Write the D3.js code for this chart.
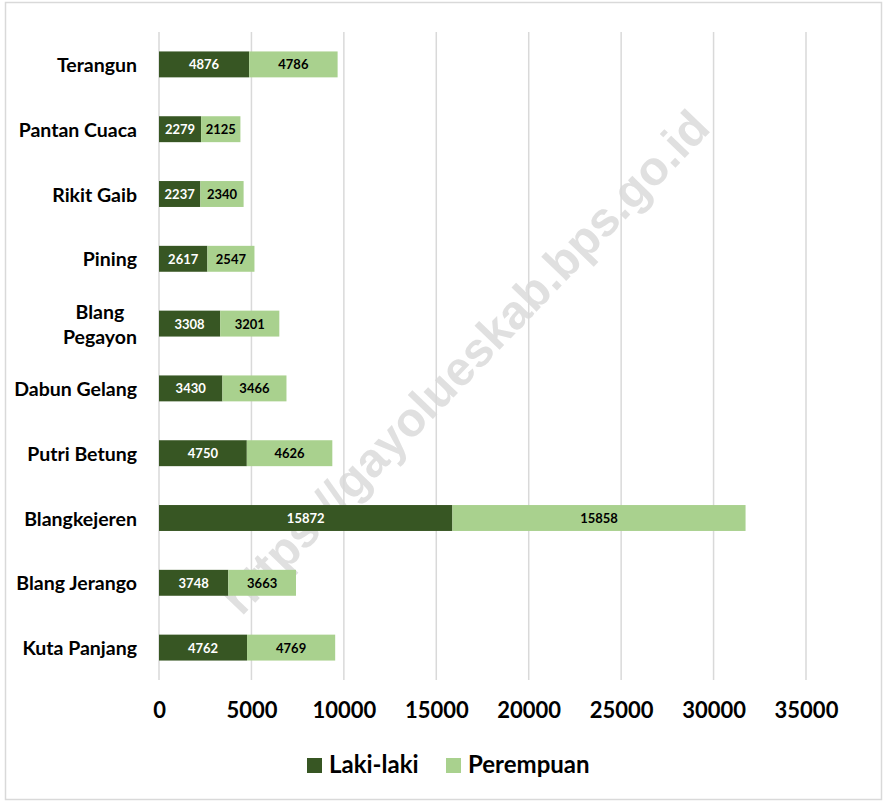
<!DOCTYPE html>
<html>
<head>
  <meta charset="utf-8">
  <title>Penduduk Gayo Lues</title>
  <script src="https://d3js.org/d3.v7.min.js"></script>
  <style>
    body { margin: 0; background: #fff; }
    text { font-family: Lato, "Open Sans", sans-serif; font-weight: bold; }
  </style>
</head>
<body>

  <div id="chart"></div>
  <script type="text/javascript">

  var kecamatan = ["Terangun", "Pantan Cuaca", "Rikit Gaib", "Pining", "Blang Pegayon",
                   "Dabun Gelang", "Putri Betung", "Blangkejeren", "Blang Jerango", "Kuta Panjang"];
  var lakiLaki  = [4876, 2279, 2237, 2617, 3308, 3430, 4750, 15872, 3748, 4762];
  var perempuan = [4786, 2125, 2340, 2547, 3201, 3466, 4626, 15858, 3663, 4769];
  var xTicks = [0, 5000, 10000, 15000, 20000, 25000, 30000, 35000];
  var seriesNames = ["Laki-laki", "Perempuan"];
  var wrapped = ["Blang Pegayon"];

  var colors = ["#375623", "#a9d18e"];
  var W = 888, H = 803;
  var mLeft = 159, mRight = 806, mTop = 32, mBottom = 680;

  var svg = d3.select("#chart").append("svg").attr("width", W).attr("height", H);

  svg.append("rect").attr("x", 5.5).attr("y", 2.5).attr("width", 876).attr("height", 797)
    .attr("fill", "#fff").attr("stroke", "#d9d9d9").attr("stroke-width", 1.5);

  var x = d3.scaleLinear().domain([0, 35000]).range([mLeft, mRight]);
  var y = d3.scaleBand().domain(kecamatan).range([mTop, mBottom])
    .paddingInner(0.6).paddingOuter(0.3);

  // gridlines
  svg.append("g").selectAll("line").data(xTicks).enter().append("line")
    .attr("x1", function(d){ return x(d); }).attr("x2", function(d){ return x(d); })
    .attr("y1", mTop).attr("y2", mBottom)
    .attr("stroke", "#d9d9d9").attr("stroke-width", 1.5);

  // watermark (behind bars)
  svg.append("text")
    .attr("transform", "translate(465,362) rotate(-46)")
    .attr("text-anchor", "middle").attr("dominant-baseline", "central")
    .style("font-family", "'Liberation Sans', Arial, sans-serif")
    .style("font-size", "48px").attr("fill", "#d9d9d9").attr("opacity", 0.8)
    .text("https://gayolueskab.bps.go.id");

  // stacked bars
  var rows = kecamatan.map(function(k, i){ return {k: k, v: [lakiLaki[i], perempuan[i]]}; });
  var segs = [];
  rows.forEach(function(r){
    var start = 0;
    r.v.forEach(function(v, s){
      segs.push({k: r.k, s: s, x0: start, x1: start + v, v: v});
      start += v;
    });
  });

  var g = svg.append("g");
  g.selectAll("rect").data(segs).enter().append("rect")
    .attr("x", function(d){ return x(d.x0); })
    .attr("width", function(d){ return x(d.x1) - x(d.x0); })
    .attr("y", function(d){ return y(d.k); })
    .attr("height", y.bandwidth())
    .attr("fill", function(d){ return colors[d.s]; });

  g.selectAll("text").data(segs).enter().append("text")
    .attr("x", function(d){ return (x(d.x0) + x(d.x1)) / 2; })
    .attr("y", function(d){ return y(d.k) + y.bandwidth() / 2; })
    .attr("text-anchor", "middle").attr("dominant-baseline", "central")
    .style("font-size", "13px")
    .attr("fill", function(d){ return d.s === 0 ? "#fff" : "#000"; })
    .text(function(d){ return d.v; });

  // category labels
  var labels = svg.append("g").selectAll("text").data(kecamatan).enter().append("text")
    .style("font-size", "19.5px").attr("fill", "#000")
    .attr("y", function(d){ return y(d) + y.bandwidth() / 2; })
    .attr("dominant-baseline", "central");
  labels.each(function(d){
    var t = d3.select(this);
    if (wrapped.indexOf(d) >= 0) {
      var parts = d.split(" ");
      t.attr("text-anchor", "middle");
      parts.forEach(function(p, i){
        t.append("tspan").attr("x", 0).attr("dy", i === 0 ? "-0.65em" : "1.3em").text(p);
      });
      var wmax = 0;
      t.selectAll("tspan").each(function(){ wmax = Math.max(wmax, this.getComputedTextLength()); });
      t.selectAll("tspan").attr("x", 137 - wmax / 2);
    } else {
      t.attr("text-anchor", "end").attr("x", 137).text(d);
    }
  });

  // x axis
  var xAxis = d3.axisBottom(x).tickValues(xTicks).tickSize(0).tickPadding(0).tickFormat(d3.format("d"));
  var ax = svg.append("g").attr("transform", "translate(0," + mBottom + ")").call(xAxis);
  ax.select(".domain").remove();
  ax.selectAll("text").attr("y", 38).attr("dy", 0)
    .style("font-family", "Lato, sans-serif").style("font-size", "22px").attr("fill", "#000");

  // legend
  var leg = svg.append("g").selectAll("g").data(seriesNames).enter().append("g")
    .attr("transform", function(d, i){ return "translate(" + [307, 446][i] + ",758)"; });
  leg.append("rect").attr("width", 15).attr("height", 15)
    .attr("fill", function(d, i){ return colors[i]; });
  leg.append("text").attr("x", 22).attr("y", 15)
    .style("font-size", "24px").attr("fill", "#000").text(function(d){ return d; });

  </script>

</body>
</html>
